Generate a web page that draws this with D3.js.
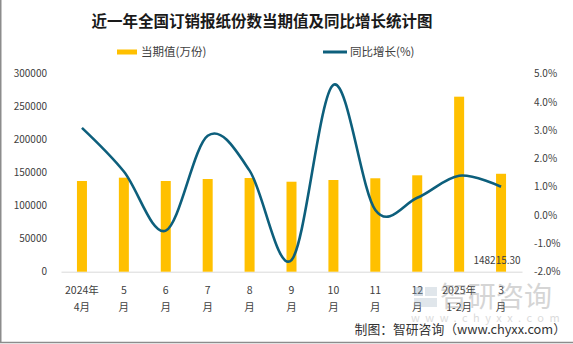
<!DOCTYPE html>
<html>
<head>
<meta charset="utf-8">
<script src="https://d3js.org/d3.v7.min.js"></script>
<style>
  body { margin: 0; background: #fff; }
  svg { display: block; font-family: "Noto Sans CJK SC", "Noto Sans", sans-serif; }
</style>
</head>
<body>
<svg width="573" height="344"></svg>
<script>
// data
const months = ["2024年4月", "5月", "6月", "7月", "8月", "9月", "10月", "11月", "12月", "2025年1-2月", "3月"];
const labelTop = ["2024年", "5", "6", "7", "8", "9", "10", "11", "12", "2025年", "3"];
const labelBottom = ["4月", "月", "月", "月", "月", "月", "月", "月", "月", "1-2月", "月"];
const copies = [137300, 142300, 137300, 140300, 141800, 136200, 138800, 141400, 145900, 264900, 148215.30];
const growth = [3.08, 1.54, -0.55, 2.8, 1.57, -1.59, 4.6, 0.18, 0.61, 1.39, 1.0];
const leftTicks = [0, 50000, 100000, 150000, 200000, 250000, 300000];
const rightTicks = [-2, -1, 0, 1, 2, 3, 4, 5];

const barColor = "#FFC000", lineColor = "#0D5F7C", textColor = "#404040";

const svg = d3.select("svg");
const margin = {top: 73.5, left: 61, right: 51, bottom: 72.3};
const width = 573 - margin.left - margin.right,
      height = 344 - margin.top - margin.bottom;

// border (left and bottom edges visible)
svg.append("line").attr("x1", 0.75).attr("x2", 0.75).attr("y1", 0).attr("y2", 343)
  .attr("stroke", "#8c8c8c").attr("stroke-width", 1.5);
svg.append("line").attr("x1", 0).attr("x2", 573).attr("y1", 342.5).attr("y2", 342.5)
  .attr("stroke", "#8c8c8c").attr("stroke-width", 1.5);

const g = svg.append("g").attr("transform", "translate(" + margin.left + "," + margin.top + ")");

const x = d3.scaleBand().domain(months).range([0, width]);
const y = d3.scaleLinear().domain([0, 300000]).range([height, 0]);
const y2 = d3.scaleLinear().domain([-2, 5]).range([height, 0]);

// title
svg.append("text")
  .attr("x", 262).attr("y", 27)
  .attr("text-anchor", "middle")
  .style("font-size", "15.5px").style("font-weight", "bold")
  .attr("fill", "#1a1a1a")
  .text("近一年全国订销报纸份数当期值及同比增长统计图");

// legend
svg.append("rect").attr("x", 117).attr("y", 49.5).attr("width", 20).attr("height", 5).attr("fill", barColor);
svg.append("text").attr("x", 141).attr("y", 56).style("font-size", "11.5px").attr("fill", textColor).text("当期值(万份)");
svg.append("line").attr("x1", 323).attr("x2", 347).attr("y1", 52).attr("y2", 52)
  .attr("stroke", lineColor).attr("stroke-width", 3);
svg.append("text").attr("x", 350).attr("y", 56).style("font-size", "11.5px").attr("fill", textColor).text("同比增长(%)");

// left axis
const yAxis = g.append("g")
  .call(d3.axisLeft(y).tickValues(leftTicks).tickSize(0).tickPadding(14).tickFormat(d3.format("d")));
yAxis.select(".domain").remove();
yAxis.selectAll("text").style("font-size", "10px").attr("fill", textColor)
  .style("font-family", "'Noto Sans CJK SC', sans-serif");

// right axis
const y2Axis = g.append("g")
  .attr("transform", "translate(" + width + ",0)")
  .call(d3.axisRight(y2).tickValues(rightTicks).tickSize(0).tickPadding(12)
    .tickFormat(function(d) { return d.toFixed(1) + "%"; }));
y2Axis.select(".domain").remove();
y2Axis.selectAll("text").style("font-size", "10px").attr("fill", textColor)
  .style("font-family", "'Noto Sans CJK SC', sans-serif");

// bottom axis
const xAxis = g.append("g")
  .attr("transform", "translate(0," + height + ")")
  .call(d3.axisBottom(x).tickSize(0).tickFormat(""));
xAxis.select(".domain").attr("stroke", "#d9d9d9");

const xl = g.append("g").selectAll("text").data(months).join("text")
  .attr("text-anchor", "middle")
  .style("font-size", "10.5px").attr("fill", textColor);
xl.append("tspan")
  .attr("x", function(d) { return x(d) + x.bandwidth() / 2; })
  .attr("y", height + 22)
  .text(function(d, i) { return labelTop[i]; });
xl.append("tspan")
  .attr("x", function(d) { return x(d) + x.bandwidth() / 2; })
  .attr("y", height + 39)
  .text(function(d, i) { return labelBottom[i]; });

// bars
g.append("g").selectAll("rect").data(copies).join("rect")
  .attr("x", function(d, i) { return x(months[i]) + x.bandwidth() / 2 - 5; })
  .attr("width", 10)
  .attr("y", function(d) { return y(d); })
  .attr("height", function(d) { return height - y(d); })
  .attr("fill", barColor);

// label of last bar
const last = months.length - 1;
g.append("text")
  .attr("x", x(months[last]) + x.bandwidth() / 2 - 4)
  .attr("y", y(0) - 8)
  .attr("text-anchor", "middle")
  .style("font-size", "10px").attr("fill", textColor)
  .text(copies[last].toFixed(2));

// smooth line
const line = d3.line()
  .x(function(d, i) { return x(months[i]) + x.bandwidth() / 2; })
  .y(function(d) { return y2(d); })
  .curve(d3.curveCardinal.tension(0));
g.append("path")
  .datum(growth)
  .attr("fill", "none")
  .attr("stroke", lineColor)
  .attr("stroke-width", 2.6)
  .attr("d", line);

// watermark
const wm = svg.append("g").attr("opacity", 0.35);
wm.append("rect").attr("x", 414).attr("y", 287).attr("width", 9).attr("height", 9).attr("fill", "#7f9bb5");
wm.append("rect").attr("x", 425).attr("y", 287).attr("width", 12).attr("height", 9).attr("fill", "#a9b9c8");
wm.append("rect").attr("x", 414).attr("y", 298).attr("width", 23).attr("height", 9).attr("fill", "#a9b9c8");
wm.append("text").attr("x", 440).attr("y", 307).style("font-size", "28px").attr("fill", "#8a8a8a").text("智研咨询");
wm.append("text").attr("x", 411).attr("y", 322).style("font-size", "11px").style("letter-spacing", "5.5px")
  .attr("fill", "#9a9a9a").text("www.chyxx.com");

// source note
svg.append("text")
  .attr("x", 566).attr("y", 334)
  .attr("text-anchor", "end")
  .style("font-size", "12.8px").attr("fill", "#333")
  .text("制图：智研咨询（www.chyxx.com）");
</script>
</body>
</html>
